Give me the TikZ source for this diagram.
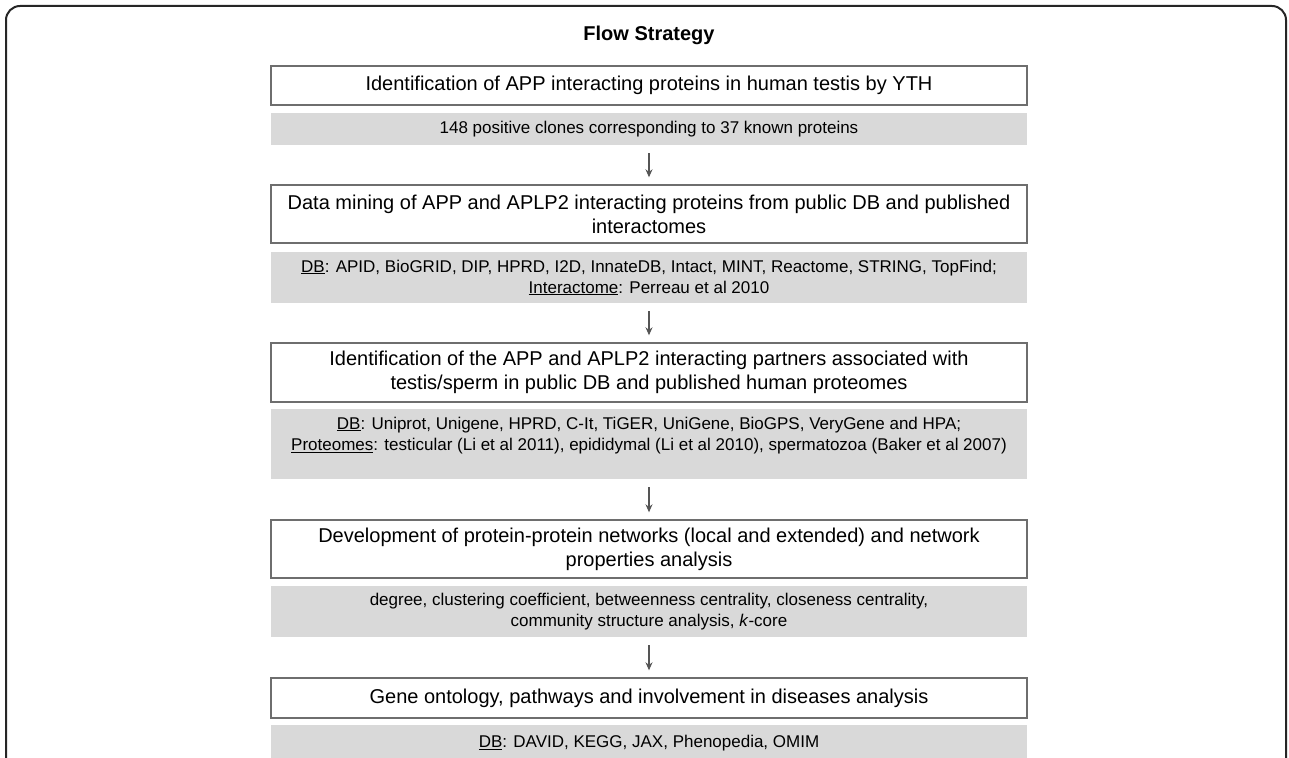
\documentclass[tikz,border=0pt]{standalone}
\usepackage{fontspec}
\setmainfont{Liberation Sans}
\usetikzlibrary{arrows.meta}
\definecolor{boxline}{RGB}{110,110,110}
\definecolor{infogray}{RGB}{217,217,217}
\definecolor{arrowgray}{RGB}{85,85,85}
\tikzset{
  stepbox/.style={draw=boxline, line width=1.4pt, fill=white, minimum width=756pt, inner sep=0pt, align=center, font=\fontsize{20}{24}\selectfont},
  infobox/.style={fill=infogray, minimum width=756pt, inner sep=0pt, align=center, font=\fontsize{17}{21}\selectfont},
  flowarrow/.style={draw=arrowgray, line width=1.2pt, -{Stealth[length=8pt,width=7pt]}, shorten <=8pt, shorten >=7pt},
  frame/.style={draw=black!85, line width=2pt, rounded corners=14pt}
}

\begin{document}
\begin{tikzpicture}[x=1pt, y=-1pt]
  \useasboundingbox (0,0) rectangle (1289,757);
  % Rahmen
  \draw[frame] (6,790) |- (1286,6) -- (1286,790);

  % Titel
  \node[font=\fontsize{20}{24}\selectfont\bfseries] (title) at (649,35) {Flow Strategy};

  % Schritte
  \node[stepbox, minimum height=39pt] (yth) at (649,85.5) {Identification of APP interacting proteins in human testis by YTH};
  \node[infobox, minimum height=32pt] (clones) at (649,129) {148 positive clones corresponding to 37 known proteins};

  \node[stepbox, minimum height=58pt] (mining) at (649,214) {Data mining of APP and APLP2 interacting proteins from public DB and published\\interactomes};
  \node[infobox, minimum height=51pt] (dbint) at (649,277.5) {\underline{DB}: APID, BioGRID, DIP, HPRD, I2D, InnateDB, Intact, MINT, Reactome, STRING, TopFind;\\\underline{Interactome}: Perreau et al 2010};

  \node[stepbox, minimum height=59pt] (partners) at (649,372.5) {Identification of the APP and APLP2 interacting partners associated with\\testis/sperm in public DB and published human proteomes};
  \node[infobox, minimum height=70pt] (dbprot) at (649,444) {\underline{DB}: Uniprot, Unigene, HPRD, C-It, TiGER, UniGene, BioGPS, VeryGene and HPA;\\\underline{Proteomes}: testicular (Li et al 2011), epididymal (Li et al 2010), spermatozoa (Baker et al 2007)\\\mbox{}};

  \node[stepbox, minimum height=58pt] (network) at (649,549) {Development of protein-protein networks (local and extended) and network\\properties analysis};
  \node[infobox, minimum height=51pt] (props) at (649,611.5) {degree, clustering coefficient, betweenness centrality, closeness centrality,\\community structure analysis, \textit{k}-core};

  \node[stepbox, minimum height=40pt] (ontology) at (649,698) {Gene ontology, pathways and involvement in diseases analysis};
  \node[infobox, minimum height=36pt] (dbgo) at (649,743) {\underline{DB}: DAVID, KEGG, JAX, Phenopedia, OMIM};

  % Pfeile
  \draw[flowarrow] (clones) -- (mining);
  \draw[flowarrow] (dbint) -- (partners);
  \draw[flowarrow] (dbprot) -- (network);
  \draw[flowarrow] (props) -- (ontology);
\end{tikzpicture}
\end{document}
